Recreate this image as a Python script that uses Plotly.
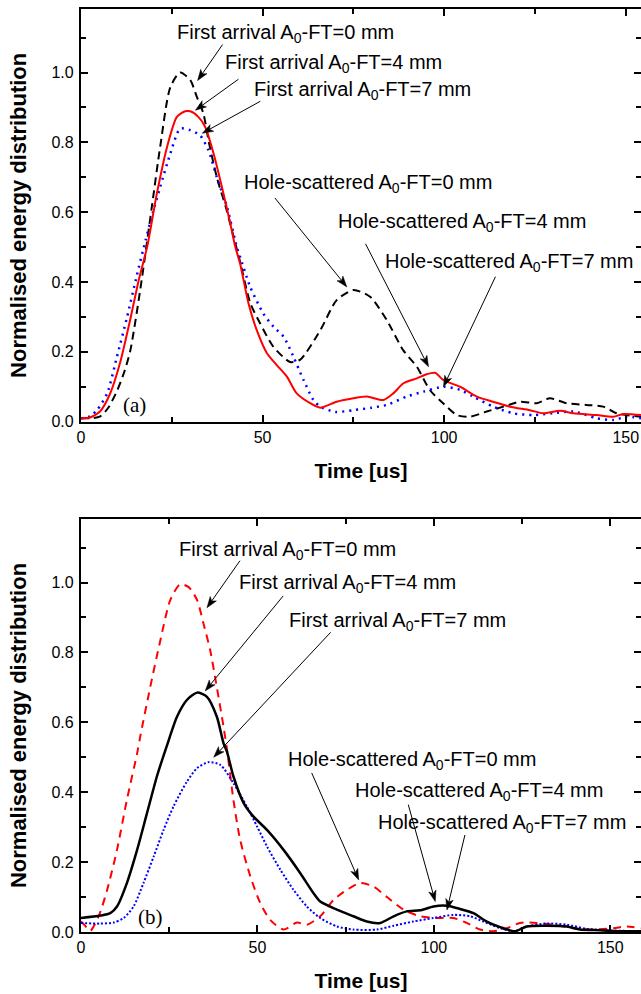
import math
import plotly.graph_objects as go

# ---------------- panel (a) ----------------
t_a_0mm = [0, 3, 5.3, 7.5, 10, 12, 13.6, 16.3, 19.5, 21.8, 24.6, 27.3, 30.1, 31.9, 33.7, 35.1, 37.4,
           40, 42.5, 44, 46.6, 49.3, 53, 57.6, 60.3, 65.9, 70.4, 75, 79.6, 84.2, 88.7, 92.5, 96.1,
           99.7, 103.5, 107.1, 111.7, 116.3, 120.9, 125.5, 129.1, 133.7, 139.2, 143.8, 147.5, 150.2, 154.2]
e_a_0mm = [0.01, 0.01, 0.015, 0.04, 0.09, 0.145, 0.205, 0.377, 0.615, 0.787, 0.958, 1.0, 0.978, 0.93, 0.883,
           0.806, 0.70, 0.61, 0.51, 0.45, 0.34, 0.282, 0.214, 0.171, 0.177, 0.262, 0.348, 0.377, 0.358,
           0.291, 0.205, 0.157, 0.09, 0.053, 0.019, 0.014, 0.029, 0.043, 0.057, 0.053, 0.067, 0.053, 0.048,
           0.043, 0.024, 0.019, 0.014]

t_a_4mm = [0, 2.5, 5.3, 8, 10.8, 13.5, 16, 18.2, 20.9, 23.7, 26.4, 28.7, 30.1, 32.3, 34.2, 36.5, 38.8,
           41.1, 42.5, 43.8, 46.1, 48.4, 51.2, 53.9, 56.7, 59.4, 63.1, 65.9, 70.4, 75, 78.7, 83.3, 86,
           88.8, 92.5, 95.2, 97.5, 99.8, 104.4, 109, 113.5, 118.1, 123.6, 127.3, 131.9, 135.6, 142, 146.6,
           149.3, 154.2]
e_a_4mm = [0.01, 0.012, 0.03, 0.08, 0.17, 0.29, 0.41, 0.50, 0.654, 0.787, 0.873, 0.889, 0.889, 0.873, 0.844,
           0.768, 0.672, 0.568, 0.50, 0.453, 0.34, 0.262, 0.196, 0.162, 0.129, 0.081, 0.053, 0.04, 0.057,
           0.067, 0.072, 0.062, 0.081, 0.11, 0.124, 0.136, 0.14, 0.119, 0.10, 0.072, 0.057, 0.043, 0.033,
           0.024, 0.031, 0.024, 0.019, 0.014, 0.022, 0.019]

t_a_7mm = [0, 2.5, 4.4, 7.2, 9.9, 12.7, 15.4, 17.8, 19.8, 21.8, 24.6, 27.3, 30.1, 32.8, 35.1, 37.4, 40.2,
           42.9, 43.8, 46.6, 50.2, 53, 55.8, 58.5, 61.3, 64, 65.9, 70, 75, 80, 84.2, 89.7, 94.3, 99.8,
           104.4, 108, 113.5, 119, 124.5, 130, 135.6, 142, 146.6, 150.2, 154.2]
e_a_7mm = [0.01, 0.015, 0.033, 0.081, 0.186, 0.30, 0.42, 0.52, 0.60, 0.672, 0.768, 0.839, 0.835, 0.82, 0.777,
           0.70, 0.615, 0.50, 0.472, 0.386, 0.31, 0.272, 0.243, 0.186, 0.119, 0.062, 0.043, 0.028, 0.033,
           0.04, 0.048, 0.072, 0.086, 0.10, 0.091, 0.072, 0.043, 0.024, 0.019, 0.024, 0.029, 0.01, 0.005,
           0.014, 0.01]

# ---------------- panel (b) ----------------
t_b_0mm = [0, 1, 2.6, 5, 7.4, 10.2, 13, 15.9, 16.8, 19.6, 22.5, 25.3, 28.1, 30.5, 32.9, 34.7, 36.6, 38.5,
           40.4, 41.4, 43.2, 45.1, 48, 50.8, 53.6, 57.4, 61.2, 64, 67.8, 71.6, 75.4, 79.1, 82.9, 86.7,
           91.4, 96.1, 100.9, 105.6, 109.3, 113.1, 116.9, 120.7, 124.4, 129.2, 133.9, 139.5, 145.2,
           150.9, 154.7, 158.7]
e_b_0mm = [0.03, 0.02, 0.003, 0.045, 0.12, 0.235, 0.378, 0.511, 0.56, 0.70, 0.835, 0.95, 0.995, 0.987, 0.95,
           0.883, 0.807, 0.70, 0.587, 0.521, 0.378, 0.264, 0.159, 0.083, 0.035, 0.007, 0.027, 0.021, 0.045,
           0.092, 0.121, 0.14, 0.13, 0.10, 0.064, 0.045, 0.04, 0.04, 0.026, 0.007, 0.002, 0.011, 0.026,
           0.026, 0.021, 0.011, 0.007, 0.011, 0.016, 0.011]

t_b_4mm = [0, 5.5, 8.3, 10.2, 13, 15.9, 18.7, 21.5, 23.4, 24.4, 27.2, 30, 32.9, 35.7, 38.5, 40.4, 41.4,
           43.2, 46.1, 48.9, 52.7, 57.4, 62.1, 65.9, 67.8, 72.5, 77.2, 81, 84.8, 88.6, 92.3, 96.1, 99.9,
           103.7, 107.4, 111.2, 115, 118.8, 123, 126.3, 132, 137.7, 141.4, 147.1, 152.8, 158.7]
e_b_4mm = [0.04, 0.047, 0.054, 0.073, 0.14, 0.235, 0.34, 0.445, 0.505, 0.535, 0.616, 0.664, 0.685, 0.673,
           0.616, 0.54, 0.515, 0.445, 0.369, 0.33, 0.292, 0.235, 0.169, 0.111, 0.087, 0.064, 0.045, 0.03,
           0.026, 0.045, 0.059, 0.062, 0.073, 0.075, 0.066, 0.054, 0.03, 0.014, 0.002, 0.016, 0.018, 0.016,
           0.007, 0.005, 0.002, 0.002]

t_b_7mm = [0, 5.5, 9.2, 12.1, 14.9, 17.7, 20.6, 23.4, 26.2, 30, 32.9, 36.1, 39.5, 43.2, 47, 49.9, 52.7,
           56.5, 60.2, 64, 67.8, 72.5, 77.2, 83.9, 88.6, 94.2, 99.9, 105.6, 110.3, 114, 118.8, 122.5,
           126.3, 132, 137.7, 143.3, 149, 158.7]
e_b_7mm = [0.026, 0.024, 0.027, 0.04, 0.073, 0.14, 0.216, 0.292, 0.359, 0.43, 0.469, 0.486, 0.478, 0.426,
           0.359, 0.302, 0.245, 0.178, 0.121, 0.073, 0.04, 0.016, 0.007, 0.007, 0.018, 0.03, 0.04, 0.049,
           0.045, 0.03, 0.011, 0.002, 0.016, 0.024, 0.021, 0.009, 0.005, 0.002]

# ---------------- labels ----------------
y_ticks = [0.0, 0.2, 0.4, 0.6, 0.8, 1.0]
label_font = "Liberation Sans, Arial, sans-serif"
first = "First arrival A<sub>0</sub>-FT={} mm"
hole = "Hole-scattered A<sub>0</sub>-FT={} mm"

# callout text (text, x, y) and pointers (head x, head y, tail dx px, tail dy px, +dy = down)
text_a = [(first.format(0), 26.0, 1.112), (first.format(4), 39.2, 1.026), (first.format(7), 47.1, 0.949),
          (hole.format(0), 44.4, 0.682), (hole.format(4), 70.2, 0.570), (hole.format(7), 83.2, 0.457)]
arrows_a = [(32.1, 0.977, 25, -36), (31.5, 0.892, 43, -31), (33.4, 0.826, 58, -32),
            (73.2, 0.386, -72, -89), (95.7, 0.157, -63, -123), (99.8, 0.100, 52, -110)]

text_b = [(first.format(0), 27.3, 1.092), (first.format(4), 44.3, 0.998), (first.format(7), 58.5, 0.889),
          (hole.format(0), 58.2, 0.492), (hole.format(4), 77.2, 0.401), (hole.format(7), 83.7, 0.311)]
arrows_b = [(35.7, 0.928, 33, -47), (35.2, 0.69, 78, -95), (37.6, 0.5, 117, -125),
            (78.7, 0.149, -47, -107), (100.4, 0.087, -27, -97), (103.7, 0.063, 18, -75)]

fig = go.Figure()


def add_series(t, e, color, dash, width, xa, ya):
    fig.add_trace(go.Scatter(x=t, y=e, mode="lines", xaxis=xa, yaxis=ya, showlegend=False,
                             line=dict(color=color, dash=dash, width=width, shape="spline", smoothing=0.7)))


add_series(t_a_0mm, e_a_0mm, "#000000", "8px,5px", 2, "x", "y")
add_series(t_a_7mm, e_a_7mm, "#0000ff", "2px,5px", 2.5, "x", "y")
add_series(t_a_4mm, e_a_4mm, "#ff0000", "solid", 2, "x", "y")

add_series(t_b_0mm, e_b_0mm, "#ff0000", "8px,6px", 2, "x2", "y2")
add_series(t_b_7mm, e_b_7mm, "#0000ff", "2px,2px", 2, "x2", "y2")
add_series(t_b_4mm, e_b_4mm, "#000000", "solid", 2.5, "x2", "y2")

# empty traces so the label-only companion axes get a subplot of their own
fig.add_trace(go.Scatter(x=[], y=[], xaxis="x", yaxis="y3", showlegend=False, hoverinfo="skip"))
fig.add_trace(go.Scatter(x=[], y=[], xaxis="x2", yaxis="y4", showlegend=False, hoverinfo="skip"))


def pointer_shapes(x, y, dx, dy, xr, yr):
    """Shaft and filled head of a pointer, sized in pixels around the head point."""
    up = -dy  # shape pixel offsets grow upward
    L = math.hypot(dx, up)
    ux, uy = dx / L, up / L
    nx, ny = -uy, ux
    hl, hw = 11.0, 3.8
    c1 = (ux * hl + nx * hw, uy * hl + ny * hw)
    c2 = (ux * hl - nx * hw, uy * hl - ny * hw)
    mid = (ux * hl * 0.75, uy * hl * 0.75)
    common = dict(xref=xr, yref=yr, xsizemode="pixel", ysizemode="pixel", xanchor=x, yanchor=y)
    shaft = dict(type="path", path=f"M {mid[0]:.2f},{mid[1]:.2f} L {dx:.2f},{up:.2f}",
                 line=dict(color="black", width=1), **common)
    head = dict(type="path",
                path=(f"M 0,0 L {c1[0]:.2f},{c1[1]:.2f} L {mid[0]:.2f},{mid[1]:.2f} "
                      f"L {c2[0]:.2f},{c2[1]:.2f} Z"),
                fillcolor="black", line=dict(color="black", width=0.5), **common)
    return [shaft, head]


annotations = []
shapes = []
for (xr, yr, texts, arrows) in (("x", "y", text_a, arrows_a), ("x2", "y2", text_b, arrows_b)):
    for txt, x, y in texts:
        annotations.append(dict(text=txt, x=x, y=y, xref=xr, yref=yr, showarrow=False,
                                xanchor="left", yanchor="middle",
                                font=dict(family=label_font, size=20, color="black")))
    for x, y, dx, dy in arrows:
        shapes.extend(pointer_shapes(x, y, dx, dy, xr, yr))

annotations.append(dict(text="(a)", x=14.8, y=0.048, xref="x", yref="y", showarrow=False,
                        font=dict(family="Liberation Serif, Times New Roman, serif", size=21, color="black")))
annotations.append(dict(text="(b)", x=19.8, y=0.044, xref="x2", yref="y2", showarrow=False,
                        font=dict(family="Liberation Serif, Times New Roman, serif", size=21, color="black")))

tick_font = dict(family=label_font, size=16, color="black")
title_font = dict(family=label_font, size=21, color="black", weight="bold")
Y_RANGE = [0, 1.182]

MARGIN_L = 60
PLOT_W = 641 - MARGIN_L
X_DOMAIN = [21 / PLOT_W, 1]        # frame's left edge 21 px inside the plotting area
LABEL_POS = 13.7 / PLOT_W          # numbers end just left of the frame


def xaxis(rng, anchor):
    return dict(range=rng, anchor=anchor, domain=X_DOMAIN, showline=True, linewidth=2, linecolor="black",
                mirror="ticks", ticks="inside", ticklen=7, tickwidth=1.5, tickcolor="black",
                tick0=0, dtick=50, tickfont=tick_font, showgrid=False, zeroline=False,
                minor=dict(dtick=25, ticks="inside", ticklen=5, tickwidth=1.5, tickcolor="black", showgrid=False),
                title=dict(text="Time [us]", font=title_font, standoff=18), automargin=False)


def yaxis(domain, anchor):
    # frame, ticks and title; the numbers sit on a companion axis close to the frame
    return dict(range=Y_RANGE, domain=domain, anchor=anchor, showline=True, linewidth=2,
                linecolor="black", mirror="ticks", ticks="inside", ticklen=7, tickwidth=1.5,
                tickcolor="black", tick0=0, dtick=0.2, showticklabels=False,
                showgrid=False, zeroline=False,
                minor=dict(dtick=0.1, ticks="inside", ticklen=5, tickwidth=1.5, tickcolor="black", showgrid=False),
                title=dict(text="Normalised energy distribution",
                           font=dict(family=label_font, size=22, color="black", weight="bold"), standoff=46),
                automargin=False)


def ylabels(domain, over):
    return dict(range=Y_RANGE, domain=domain, overlaying=over, anchor="free", position=LABEL_POS, side="left",
                showline=False, ticks="", tickvals=y_ticks, ticktext=[f"{v:.1f}" for v in y_ticks],
                tickfont=tick_font, showgrid=False, zeroline=False, automargin=False)


fig.update_layout(
    width=641, height=994,
    margin=dict(l=MARGIN_L, r=0, t=9, b=62),
    paper_bgcolor="white", plot_bgcolor="white",
    xaxis=xaxis([0, 154.2], "y"),
    yaxis=yaxis([0.5529, 1.0], "x"),
    xaxis2=xaxis([0, 158.7], "y2"),
    yaxis2=yaxis([0, 0.4475], "x2"),
    yaxis3=ylabels([0.5529, 1.0], "y"),
    yaxis4=ylabels([0, 0.4475], "y2"),
    annotations=annotations,
    shapes=shapes,
)

fig.write_html("out.html")
